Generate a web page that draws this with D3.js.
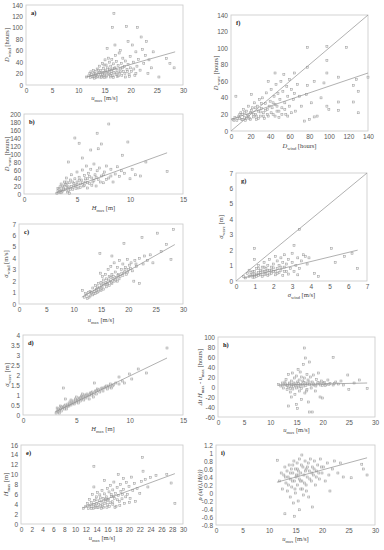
<!doctype html>
<html lang="en">
<head>
<meta charset="UTF-8">
<title>Storm scatter panels</title>
<script src="https://cdn.jsdelivr.net/npm/d3@7"></script>
<style>
  body { margin: 0; background: #fff; }
  svg { display: block; font-family: "Liberation Serif", "DejaVu Serif", serif; }
  .tick text { fill: #595959; font-size: 6.5px; }
  .lbl { fill: #404040; font-size: 6.5px; }
  .plab { fill: #222; font-size: 6.5px; font-weight: bold; }
</style>
</head>
<body>
<div id="chart"></div>
<script>
// --- data ---
const aPts = [[11.6,14],[12,16],[12.3,13],[12.5,18],[12.8,14],[13,20],[13,15],[13.2,24],[13.4,13],[13.5,17],[13.6,28],[13.8,21],[14,14],[14,33],[14.2,18],[14.3,25],[14.5,15],[14.6,38],[14.7,22],[14.8,29],[15,13],[15,19],[15.1,44],[15.2,26],[15.3,35],[15.4,16],[15.5,64],[15.5,22],[15.6,30],[15.8,47],[15.9,18],[16,25],[16,40],[16.1,14],[16.2,33],[16.3,20],[16.4,45],[16.5,101],[16.5,28],[16.6,16],[16.7,37],[16.8,125],[16.8,22],[17,70],[17,30],[17.1,52],[17.2,18],[17.3,41],[17.4,25],[17.5,15],[17.6,34],[17.8,56],[17.9,21],[18,60],[18,28],[18.2,38],[18.3,17],[18.5,47],[18.6,24],[18.8,32],[19,14],[19,42],[19.2,102],[19.3,27],[19.5,76],[19.5,36],[19.7,19],[19.9,50],[20,30],[20.2,24],[20.3,70],[20.5,40],[20.8,17],[21,58],[21.2,33],[21.3,101],[21.5,45],[21.8,26],[22,84],[22.3,62],[22.5,38],[22.8,52],[23,76],[23.3,20],[23.5,44],[24,30],[24.3,58],[25.4,14],[26.8,46],[27.5,38],[28.3,30],
  [12.2,20],[12.6,15],[12.9,25],[13.1,12],[13.3,19],[13.7,15],[13.9,26],[14.1,22],[14.4,13],[14.6,19],[14.9,16],[15.1,23],[15.3,14],[15.7,20],[15.9,27],[16.2,17],[16.4,24],[16.7,13],[16.9,29],[17.3,21],[17.7,16],[18.1,23],[18.4,30],[18.9,20],[19.4,24],[19.8,15],[20.6,28],[21,20],[12.4,23],[14.9,35]];
const aFit = [[11.5,14],[28.5,58]];

const bPts = [[3.1,2],[3.2,8],[3.2,14],[3.3,4],[3.4,18],[3.5,10],[3.5,25],[3.6,6],[3.7,15],[3.8,30],[3.8,20],[3.9,11],[4,40],[4,24],[4.1,16],[4.2,80],[4.2,8],[4.3,28],[4.4,35],[4.5,19],[4.5,48],[4.6,12],[4.7,26],[4.8,140],[4.8,38],[4.9,22],[5,30],[5,55],[5.1,15],[5.2,127],[5.2,42],[5.3,25],[5.4,35],[5.5,90],[5.5,60],[5.6,20],[5.7,46],[5.8,30],[5.9,70],[6,38],[6,15],[6.1,52],[6.2,26],[6.3,110],[6.3,62],[6.4,40],[6.5,30],[6.6,75],[6.7,48],[6.8,20],[6.9,152],[6.9,58],[7,113],[7,36],[7.1,65],[7.3,125],[7.3,45],[7.5,28],[7.6,55],[7.8,70],[8,175],[8,40],[8.2,62],[8.4,30],[8.6,50],[8.8,68],[9,44],[9.2,58],[9.3,97],[9.5,52],[9.8,130],[10,38],[10.2,62],[10.5,48],[11,45],[11.5,80],[13.5,56],
  [3.3,12],[3.4,6],[3.6,20],[3.7,10],[3.9,24],[4.1,5],[4.2,18],[4.4,12],[4.6,30],[4.7,20],[4.9,14],[5,24],[5.2,34],[5.3,16],[5.5,28],[5.7,22],[5.8,38],[6,28],[6.2,44],[6.4,22],[6.6,34],[6.8,42],[7.2,30],[7.5,48],[7.8,36],[8.2,45],[3.5,3],[4,30],[4.3,2]];
const bFit = [[3,2],[13.5,103]];

const cPts = [[11.6,1.2],[12,0.6],[12.3,0.8],[12.5,0.5],[12.7,1],[13,0.7],[13,1.1],[13.2,0.9],[13.5,0.8],[13.5,1.4],[13.8,1.1],[14,0.9],[14,1.6],[14.2,1.3],[14.5,1.1],[14.5,1.8],[14.7,1.4],[14.8,4.4],[14.9,2.7],[15,1.2],[15,1.9],[15.2,1.5],[15.3,2.4],[15.5,1.3],[15.5,2.1],[15.7,1.7],[15.8,2.6],[16,1.5],[16,2.2],[16.2,1.8],[16.3,3.0],[16.5,1.6],[16.5,2.4],[16.7,2.0],[16.8,3.3],[17,4.2],[17,1.8],[17,2.6],[17.2,2.2],[17.4,3.6],[17.5,2.0],[17.6,2.8],[17.8,2.3],[18,3.2],[18,2.0],[18.2,2.6],[18.4,3.8],[18.5,2.4],[18.7,3.0],[19,2.5],[19,3.5],[19.2,5.3],[19.3,2.8],[19.5,3.2],[19.7,2.6],[19.8,3.9],[20,3.0],[20.2,3.4],[20.5,3.6],[20.8,2.9],[21,2.0],[21.2,3.8],[21.5,3.3],[22,1.8],[22,4.0],[22.5,5.8],[22.7,3.5],[23,4.2],[23.5,3.8],[24.5,3.6],[24,4.3],[25.3,6.2],[26,4.6],[27,5.2],[27.8,3.9],[28.3,6.5],
  [12.8,0.6],[13.3,1.0],[13.7,0.9],[14.1,1.2],[14.4,1.5],[14.9,1.3],[15.1,1.6],[15.4,1.8],[15.9,1.9],[16.1,1.7],[16.4,2.1],[16.8,2.3],[16.9,1.9],[17.3,2.4],[17.7,2.1],[18.1,2.5],[18.3,2.2],[18.8,2.7],[19.4,3.0],[19.9,2.8],[20.4,3.1],[21.4,3.5],[12.2,0.9],[14.3,1.0]];
const cFit = [[11.5,0.6],[28.5,5.2]];

const dPts = [[3.1,0.1],[3.2,0.2],[3.2,0.35],[3.3,0.15],[3.4,0.25],[3.5,0.3],[3.5,0.45],[3.6,0.2],[3.7,0.35],[3.8,1.35],[3.8,0.4],[3.9,0.3],[4,0.5],[4,0.8],[4.1,0.4],[4.2,0.55],[4.3,0.45],[4.4,0.65],[4.5,0.5],[4.5,0.75],[4.6,0.6],[4.7,0.7],[4.8,0.55],[4.9,0.8],[5,0.65],[5,0.9],[5.1,0.75],[5.2,0.6],[5.3,0.85],[5.4,0.7],[5.5,0.95],[5.5,0.8],[5.6,0.9],[5.7,0.75],[5.8,1.0],[5.9,0.85],[6,1.05],[6.1,0.95],[6.2,0.8],[6.3,1.1],[6.4,1.0],[6.5,1.15],[6.6,0.9],[6.7,1.6],[6.8,1.2],[6.9,1.05],[7,1.3],[7.2,1.15],[7.4,1.35],[7.5,1.2],[7.7,1.4],[7.9,1.3],[8,1.45],[8.2,1.55],[8.3,1.35],[8.5,1.5],[8.7,1.6],[9,1.9],[9,1.55],[9.3,1.7],[9.5,1.6],[10,2.05],[10.2,1.8],[10.8,2.3],[11.6,2.1],[13.5,3.35],
  [3.3,0.3],[3.6,0.4],[3.9,0.45],[4.2,0.45],[4.4,0.55],[4.7,0.6],[4.9,0.7],[5.2,0.75],[5.4,0.85],[5.7,0.9],[5.9,0.95],[6.2,1.0],[6.4,1.1],[6.6,1.05],[6.9,1.2],[7.1,1.25],[7.3,1.3],[7.6,1.35],[7.8,1.45],[8.1,1.4],[8.4,1.45],[3.4,0.1],[4.1,0.3],[5.6,1.05]];
const dFit = [[3,0.15],[13.5,2.85]];

const ePts = [[11.6,3.2],[12,3.6],[12.3,4.2],[12.5,3.1],[12.7,5.0],[13,3.5],[13,4.4],[13.2,6.0],[13.4,3.2],[13.5,11.7],[13.5,7.5],[13.6,4.8],[13.8,3.6],[14,5.5],[14,4.1],[14.2,6.4],[14.3,3.3],[14.5,4.7],[14.6,5.9],[14.8,3.8],[15,6.8],[15,4.4],[15.2,5.2],[15.3,3.4],[15.5,8.8],[15.5,6.1],[15.7,4.6],[15.8,5.5],[16,7.2],[16,3.9],[16.2,5.0],[16.3,6.5],[16.5,4.3],[16.6,7.8],[16.8,5.6],[17,6.9],[17,4.0],[17.2,8.5],[17.3,5.2],[17.5,6.2],[17.6,3.6],[17.8,7.4],[18,10.0],[18,5.8],[18.2,4.6],[18.4,8.0],[18.5,6.6],[18.7,5.1],[19,9.2],[19,7.0],[19.2,4.2],[19.5,8.4],[19.7,6.0],[20,7.6],[20.2,5.2],[20.5,9.5],[20.7,6.8],[21,8.2],[21.2,4.6],[21.5,7.2],[22,6.2],[22.3,8.6],[22.5,13.5],[22.6,10.7],[23,9.0],[23.5,7.5],[24,9.4],[25,9.8],[27,10],[27.8,8.3],[28.5,4.2],
  [12.6,3.8],[13.1,3.1],[13.4,4.0],[13.7,3.3],[14.1,3.4],[14.4,4.0],[14.9,3.2],[15.1,3.6],[15.4,4.1],[15.9,3.4],[16.1,4.8],[16.4,3.5],[16.9,4.5],[17.1,5.6],[17.4,3.3],[17.9,4.9],[18.3,3.7],[18.8,6.0],[19.4,5.5],[20.1,4.4],[13.9,4.9],[15.6,5.0],[16.7,6.0],[14.7,5.3]];
const eFit = [[11.5,3.3],[28.5,10.2]];

const fPts = [[2,14],[4,16],[5,42],[6,13],[8,18],[9,15],[10,22],[11,14],[12,20],[13,26],[14,16],[15,13],[16,24],[17,19],[18,30],[19,15],[20,22],[21,44],[22,28],[23,17],[24,34],[25,20],[26,14],[27,30],[28,24],[29,38],[30,18],[31,27],[32,40],[33,22],[34,15],[35,33],[36,46],[37,26],[38,60],[38,18],[40,36],[41,50],[42,28],[43,20],[44,42],[45,70],[45,32],[46,56],[47,24],[48,45],[49,16],[50,38],[51,60],[52,28],[53,48],[54,68],[55,34],[56,20],[57,54],[58,42],[60,62],[60,30],[62,50],[64,38],[65,70],[65,45],[66,24],[68,56],[70,42],[72,30],[75,12],[77,44],[78,101],[78,77],[78,55],[80,14],[82,34],[85,60],[85,17],[88,18],[92,40],[95,58],[98,102],[98,85],[98,70],[98,30],[100,26],[110,65],[110,35],[110,25],[118,101],[125,55],[125,35],[128,62],[130,48],[130,22],[140,65],
  [3,13],[7,15],[9,20],[12,14],[14,22],[16,15],[18,18],[20,14],[21,25],[23,20],[25,28],[26,18],[28,15],[30,23],[31,33],[33,18],[35,25],[37,20],[39,30],[41,22],[43,34],[45,18],[47,30],[49,24],[52,20],[55,26],[58,18],[62,22]];
const fFit = [[0,14],[140,70]];
const fOne = [[0,0],[140,140]];

const gPts = [[0.4,0.3],[0.5,0.2],[0.6,0.5],[0.7,0.3],[0.7,0.7],[0.8,0.4],[0.9,0.25],[0.9,0.6],[1,2.1],[1,1.4],[1,0.4],[1.1,0.8],[1.1,0.3],[1.2,0.55],[1.2,1.0],[1.3,0.4],[1.3,0.7],[1.4,0.9],[1.4,0.3],[1.5,0.6],[1.5,1.2],[1.6,0.45],[1.6,0.8],[1.7,1.0],[1.7,0.35],[1.8,0.7],[1.8,1.4],[1.9,0.5],[1.9,0.9],[2,1.1],[2,0.6],[2.1,1.6],[2.1,0.4],[2.2,0.8],[2.2,1.3],[2.3,0.55],[2.3,1.0],[2.4,1.5],[2.4,0.7],[2.5,1.2],[2.5,0.35],[2.6,0.9],[2.6,1.7],[2.7,0.6],[2.7,1.1],[2.8,1.4],[2.8,0.45],[2.9,0.8],[3,1.2],[3,1.8],[3.1,2.3],[3.1,0.6],[3.2,1.0],[3.3,1.5],[3.3,0.4],[3.4,3.35],[3.4,0.8],[3.5,1.3],[3.6,1.7],[3.7,1.6],[3.8,1.1],[3.9,1.5],[4.2,0.5],[4.4,0.3],[5.1,2.1],[5.3,1.2],[5.8,1.6],[6.2,1.8],[6.5,0.8],
  [0.8,0.55],[0.9,0.4],[1.0,0.6],[1.1,0.45],[1.2,0.35],[1.3,0.55],[1.4,0.65],[1.5,0.4],[1.6,0.6],[1.7,0.7],[1.8,0.45],[1.9,0.7],[2.0,0.85],[2.1,0.6],[2.2,0.5],[2.4,0.9],[2.6,0.6],[1.2,0.8],[1.0,0.25],[1.5,0.9]];
const gFit = [[0.4,0.2],[6.5,2.0]];
const gOne = [[0,0],[7,7]];

const hPts = [[11.6,5],[12,2],[12.3,8],[12.5,-2],[12.8,10],[13,4],[13,15],[13.2,-5],[13.4,0],[13.5,-38],[13.5,25],[13.6,6],[13.8,-10],[14,12],[14,-20],[14,2],[14.2,28],[14.3,-4],[14.5,8],[14.6,18],[14.7,-15],[14.8,3],[15,-35],[15,22],[15,-2],[15.2,-43],[15.2,10],[15.3,35],[15.4,0],[15.5,14],[15.6,-8],[15.7,30],[15.8,5],[16,-25],[16,20],[16,-3],[16.2,12],[16.3,45],[16.4,2],[16.5,78],[16.5,18],[16.6,-12],[16.7,58],[16.8,8],[17,25],[17,-5],[17.2,14],[17.3,-30],[17.5,50],[17.5,-50],[17.5,5],[17.7,20],[17.8,-2],[18,-50],[18,10],[18.2,24],[18.4,4],[18.6,-8],[18.8,15],[19,6],[19.2,28],[19.5,-20],[19.5,8],[19.8,12],[20,-22],[20,3],[20.3,9],[20.7,5],[21,14],[21.4,7],[22,59],[22,4],[22.5,10],[23,6],[23.5,12],[24,4],[24.8,24],[25,-5],[26,8],[27,14],[28.5,-3],
  [12.4,4],[12.9,6],[13.3,3],[13.7,8],[14.1,5],[14.4,1],[14.7,6],[15.1,4],[15.4,7],[15.7,2],[16.1,6],[16.4,9],[16.8,3],[17.1,6],[17.4,10],[17.9,4],[18.3,6],[18.7,2],[19.1,9],[19.6,4],[20.1,7],[20.5,3],[21.2,5],[22.2,7],[13.9,-3],[16.9,-8]];
const hFit = [[11.5,4],[28.5,8]];

const iPts = [[11.6,0.82],[12,0.3],[12.3,0.5],[12.5,0.1],[12.8,0.45],[13,-0.52],[13,0.65],[13.2,0.25],[13.4,0.55],[13.5,0.05],[13.6,0.4],[13.8,0.7],[14,-0.1],[14,0.35],[14.2,0.6],[14.3,0.15],[14.5,0.5],[14.6,-0.25],[14.7,0.8],[14.8,-0.58],[14.8,0.3],[15,0.6],[15,0.0],[15.2,0.45],[15.3,0.75],[15.4,0.2],[15.5,-0.2],[15.6,0.55],[15.7,0.35],[15.8,-0.42],[15.8,0.85],[16,0.1],[16,0.5],[16.2,0.95],[16.2,0.3],[16.4,0.65],[16.5,-0.05],[16.6,0.45],[16.8,0.8],[17,0.2],[17,0.6],[17.2,0.4],[17.4,0.75],[17.5,-0.1],[17.6,0.55],[17.8,0.85],[18,0.3],[18.2,-0.35],[18.2,0.65],[18.4,0.45],[18.6,0.8],[18.8,0.2],[19,0.55],[19.2,0.7],[19.5,0.35],[19.7,0.85],[20,0.5],[20.3,0.65],[20.6,0.3],[21,0.75],[21.3,0.45],[21.5,0.05],[22,0.6],[22.4,0.8],[23,0.5],[23.5,0.75],[24,0.4],[25.5,0.38],[27.5,0.72],[27.8,0.6],[28.5,0.45],
  [13.1,0.4],[13.7,0.2],[14.1,0.5],[14.4,0.3],[14.9,0.1],[15.1,0.4],[15.4,0.6],[15.9,0.3],[16.1,0.7],[16.3,0.1],[16.7,0.25],[16.9,0.55],[17.1,0.05],[17.3,0.65],[17.7,0.35],[18.1,0.5],[18.5,0.6],[18.9,0.4],[19.4,0.5],[19.9,0.65],[14.5,0.7],[15.5,0.45]];
const iFit = [[11.5,0.27],[28.5,0.88]];

// axis labels: [text, style] where style is i (italic), s (subscript), n (normal)
const uLab = [["u","i"],["max","s"],[" [m/s]","n"]];
const hLab = [["H","i"],["max","s"],[" [m]","n"]];

// --- layout ---
const panels = [
  {tag:"a)", pts:aPts, lines:[aFit], box:[26,183,5,85], xd:[0,30], xs:5, yd:[0,140], ys:20, xlab:uLab, xly:100, ylab:[["D","i"],["wind","s"],[" [hours]","n"]], ylx:7},
  {tag:"b)", pts:bPts, lines:[bFit], box:[24,183,114,194], xd:[0,15], xs:5, yd:[0,200], ys:20, xlab:hLab, xly:210, ylab:[["D","i"],["wave","s"],[" [hours]","n"]], ylx:7},
  {tag:"c)", pts:cPts, lines:[cFit], box:[19,183,224,304], xd:[0,30], xs:5, yd:[0,7], ys:1, xlab:uLab, xly:322, ylab:[["σ","i"],["wind","s"],[" [m/s]","n"]], ylx:6},
  {tag:"d)", pts:dPts, lines:[dFit], box:[23,183,335,415], xd:[0,15], xs:5, yd:[0,4], ys:0.5, xlab:hLab, xly:431, ylab:[["σ","i"],["wave","s"],[" [m]","n"]], ylx:7},
  {tag:"e)", pts:ePts, lines:[eFit], box:[21,183,445,524], xd:[0,30], xs:2, yd:[0,16], ys:2, xlab:uLab, xly:540, ylab:hLab, ylx:6},
  {tag:"f)", pts:fPts, lines:[fOne, fFit], box:[231,368,15,131], xd:[0,140], xs:20, yd:[0,140], ys:20, xlab:[["D","i"],["wind","s"],[" [hours]","n"]], xly:148, ylab:[["D","i"],["wave","s"],[" [hours]","n"]], ylx:216},
  {tag:"g)", pts:gPts, lines:[gOne, gFit], box:[236,367,173,281], xd:[0,7], xs:1, yd:[0,7], ys:1, xlab:[["σ","i"],["wind","s"],[" [m/s]","n"]], xly:297, ylab:[["σ","i"],["wave","s"],[" [m]","n"]], ylx:221},
  {tag:"h)", pts:hPts, lines:[hFit], box:[218,375,337,417], xd:[0,30], xs:5, yd:[-60,100], ys:20, xlab:uLab, xly:432, ylab:[["Δt H","i"],["max","s"],[" - u","i"],["max","s"],[" [hours]","n"]], ylx:200},
  {tag:"i)", pts:iPts, lines:[iFit], box:[216,375,445,525], xd:[0,30], xs:5, yd:[-0.8,1.2], ys:0.2, xlab:uLab, xly:541, ylab:[["ρ","i"],[" (u(t),H(t))","i"]], ylx:200}
];

const svg = d3.select("#chart").append("svg").attr("width", 384).attr("height", 550);
svg.append("rect").attr("width", 384).attr("height", 550).attr("fill", "#fff");

const fmt = d => String(Math.round(d * 10) / 10);

// subscripts via dy so they also work on rotated text
function addLabel(g, parts) {
  let down = false;
  parts.forEach(([t, s]) => {
    const sp = g.append("tspan").text(t);
    if (s === "s") {
      sp.attr("font-size", "4.5px").attr("dy", down ? null : 1.6);
      down = true;
    } else {
      if (down) sp.attr("dy", -1.6);
      down = false;
      if (s === "i") sp.attr("font-style", "italic");
    }
  });
}

panels.forEach(p => {
  const [x0, x1, y0, y1] = p.box;
  const x = d3.scaleLinear().domain(p.xd).range([x0, x1]);
  const y = d3.scaleLinear().domain(p.yd).range([y1, y0]);
  const xt = d3.range(p.xd[0], p.xd[1] + p.xs / 2, p.xs);
  const yt = d3.range(p.yd[0], p.yd[1] + p.ys / 2, p.ys);
  const g = svg.append("g");

  // frame
  g.append("rect").attr("x", x0).attr("y", y0).attr("width", x1 - x0).attr("height", y1 - y0)
    .attr("fill", "none").attr("stroke", "#c8c8c8").attr("stroke-width", 0.8);

  g.append("g").attr("transform", `translate(0,${y1})`)
    .call(d3.axisBottom(x).tickValues(xt).tickSize(0).tickPadding(3).tickFormat(fmt))
    .call(a => a.select(".domain").remove());
  g.append("g").attr("transform", `translate(${x0},0)`)
    .call(d3.axisLeft(y).tickValues(yt).tickSize(0).tickPadding(3).tickFormat(fmt))
    .call(a => a.select(".domain").remove());

  // points
  g.append("g").selectAll("rect").data(p.pts).join("rect")
    .attr("x", d => x(d[0]) - 1).attr("y", d => y(d[1]) - 1)
    .attr("width", 2).attr("height", 2)
    .attr("fill", "#e0e0e0").attr("fill-opacity", 0.5)
    .attr("stroke", "#9a9a9a").attr("stroke-width", 0.5);

  // fit / identity lines
  const line = d3.line().x(d => x(d[0])).y(d => y(d[1]));
  p.lines.forEach(l => {
    g.append("path").attr("d", line(l)).attr("fill", "none")
      .attr("stroke", "#8f8f8f").attr("stroke-width", 0.7);
  });

  g.append("text").attr("class", "plab").attr("x", x0 + 5).attr("y", y0 + 10).text(p.tag);

  const xl = g.append("text").attr("class", "lbl").attr("text-anchor", "middle")
    .attr("x", (x0 + x1) / 2).attr("y", p.xly);
  addLabel(xl, p.xlab);
  const yl = g.append("text").attr("class", "lbl").attr("text-anchor", "middle")
    .attr("transform", `translate(${p.ylx + 2},${(y0 + y1) / 2}) rotate(-90)`);
  addLabel(yl, p.ylab);
});
</script>
</body>
</html>
